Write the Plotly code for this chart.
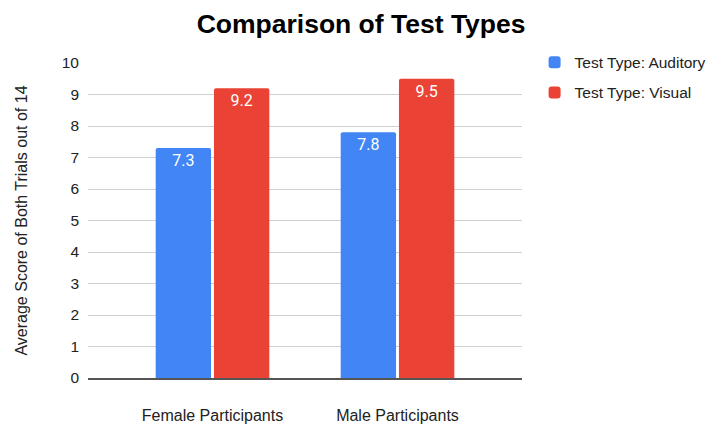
import plotly.graph_objects as go

categories = ["Female Participants", "Male Participants"]
auditory = [7.3, 7.8]
visual = [9.2, 9.5]
series_names = ["Test Type: Auditory", "Test Type: Visual"]
colors = ["#4285F4", "#EA4335"]
y_ticks = list(range(0, 11))

fig = go.Figure()
for i, (name, vals) in enumerate(zip(series_names, [auditory, visual])):
    fig.add_trace(go.Bar(
        x=categories, y=vals, name=name, legendgroup=name,
        marker=dict(color=colors[i], line=dict(width=0)),
        text=[f"{v:.1f}" for v in vals], textposition="inside",
        insidetextanchor="end",
        textfont=dict(family="Roboto", size=16, color="white"),
    ))

fig.update_layout(
    width=708, height=426,
    margin=dict(l=88, r=186, t=63, b=48, autoexpand=False),
    paper_bgcolor="white", plot_bgcolor="white",
    barmode="group", bargap=0.37, bargroupgap=0.05, barcornerradius=2,
    title=dict(text="<b>Comparison of Test Types</b>", xref="container", x=0.51, xanchor="center",
               yref="container", y=1 - 24 / 426, yanchor="middle",
               font=dict(family="Liberation Sans, Arial", size=26.5, color="#000")),
    font=dict(family="Liberation Sans, Arial", size=15, color="#444"),
    legend=dict(x=1.029, xanchor="left", y=1.055, yanchor="top", tracegroupgap=7,
                font=dict(family="Liberation Sans, Arial", size=15.5, color="#222"),
                itemwidth=30),
    showlegend=True,
)
fig.update_xaxes(range=[-0.673, 1.673], showgrid=False, showline=True, linecolor="#555", linewidth=1.5,
                 ticks="", ticklabelstandoff=22, automargin=False,
                 tickfont=dict(family="Liberation Sans, Arial", size=16, color="#222"))
fig.update_yaxes(range=[0, 10], tickvals=y_ticks, showgrid=True, gridcolor="#d0d0d0", gridwidth=1,
                 zeroline=False, ticks="", ticklabelstandoff=8, automargin=False,
                 tickfont=dict(family="Liberation Sans, Arial", size=15.5, color="#222"),
                 title=dict(text="Average Score of Both Trials out of 14", standoff=30,
                            font=dict(family="Liberation Sans, Arial", size=16, color="#222")))

fig.write_html("out.html", config={"displayModeBar": False},
               post_script="document.body.style.margin='0';document.body.style.overflow='hidden';")
